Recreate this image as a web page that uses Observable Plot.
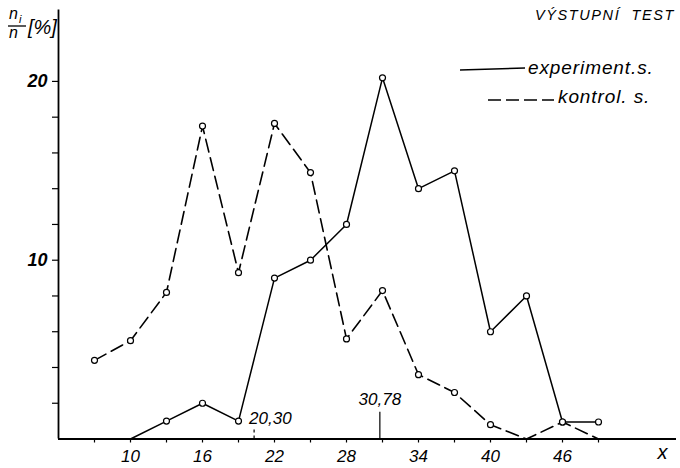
<!DOCTYPE html>
<html><head><meta charset="utf-8">
<script src="https://cdn.jsdelivr.net/npm/d3@7"></script>
<script src="https://cdn.jsdelivr.net/npm/@observablehq/plot@0.6"></script>
<style>body{margin:0;background:#fff} svg{display:block}</style>
</head><body><div id="chart"></div>
<script>
const scores     = [7, 10, 13, 16, 19, 22, 25, 28, 31, 34, 37, 40, 43, 46, 49];
const experiment = [null, 0, 1, 2, 1, 9, 10, 12, 20.2, 14, 15, 6, 8, 0.95, 0.95];
const control    = [4.4, 5.5, 8.2, 17.5, 9.3, 17.65, 14.9, 5.6, 8.3, 3.6, 2.6, 0.8, 0, 0.95, 0];
const xTicks  = [7, 10, 13, 16, 19, 22, 25, 28, 31, 34, 37, 40, 43, 46, 49];
const xLabels = [10, 16, 22, 28, 34, 40, 46];
const yTicks  = [2, 4, 6, 8, 10, 12, 14, 16, 18, 20];
const yLabels = [10, 20];
const means      = [20.30, 30.78];
const meanLabels = ["20,30", "30,78"];
const title = "VÝSTUPNÍ  TEST";
const seriesNames = ["experiment.s.", "kontrol. s."];

const FONT = "Liberation Sans, Arial, sans-serif";

const expRows  = scores.map((x, i) => ({x, y: experiment[i]})).filter(d => d.y != null);
const ctrlRows = scores.map((x, i) => ({x, y: control[i]})).filter(d => d.y != null);

function annotations() {
  const g = d3.create("svg:g")
    .attr("font-family", FONT).attr("font-style", "italic").attr("fill", "black")
    .attr("text-anchor", "start");
  // y label  n_i / n [%]
  g.append("text").attr("x", 9).attr("y", 19).attr("font-size", 16).text("n");
  g.append("text").attr("x", 19).attr("y", 23).attr("font-size", 11).text("i");
  g.append("line").attr("x1", 8).attr("x2", 26).attr("y1", 26).attr("y2", 26)
    .attr("stroke", "black").attr("stroke-width", 1.3);
  g.append("text").attr("x", 9).attr("y", 38).attr("font-size", 16).text("n");
  g.append("text").attr("x", 28).attr("y", 34).attr("font-size", 20).text("[%]");
  // title
  g.append("text").attr("x", 675).attr("y", 20).attr("text-anchor", "end")
    .attr("font-size", 14.5).attr("letter-spacing", 1.6).attr("xml:space", "preserve")
    .style("white-space", "pre").text(title);
  // legend
  g.append("line").attr("x1", 460).attr("x2", 525).attr("y1", 70).attr("y2", 68)
    .attr("stroke", "black").attr("stroke-width", 1.5);
  g.append("text").attr("x", 528).attr("y", 74).attr("font-size", 19)
    .attr("letter-spacing", 0.9).text(seriesNames[0]);
  g.append("line").attr("x1", 488).attr("x2", 554).attr("y1", 100).attr("y2", 100)
    .attr("stroke", "black").attr("stroke-width", 1.6).attr("stroke-dasharray", "13,5");
  g.append("text").attr("x", 558).attr("y", 103).attr("font-size", 19)
    .attr("letter-spacing", 0.9).text(seriesNames[1]);
  return g.node();
}

const chart = Plot.plot({
  width: 680,
  height: 468,
  marginLeft: 58,
  marginRight: 4,
  marginTop: 9.4,
  marginBottom: 29.5,
  style: {fontFamily: FONT, fontStyle: "italic", color: "black", background: "white"},
  x: {domain: [4, 55.5]},
  y: {domain: [0, 24]},
  marks: [
    Plot.axisX({ticks: xTicks, tickFormat: d => xLabels.includes(d) ? d : "", tickSize: 4,
      tickPadding: 7, fontSize: 17, label: null, strokeWidth: 1.2}),
    Plot.axisY({ticks: yTicks, tickFormat: d => yLabels.includes(d) ? d : "", tickSize: 6,
      tickPadding: 5, fontSize: 18, fontWeight: "bold", label: null, strokeWidth: 1.2}),
    Plot.ruleY([0], {strokeWidth: 1.8}),
    Plot.ruleX([4], {strokeWidth: 1.8}),
    Plot.ruleX([means[0]], {y1: 0, y2: 0.6, strokeDasharray: "3,3", strokeWidth: 1.2}),
    Plot.ruleX([means[1]], {y1: 0, y2: 1.5, strokeWidth: 1.2}),
    Plot.text([meanLabels[0]], {x: means[0], y: 1.15, textAnchor: "start", dx: -5, fontSize: 17}),
    Plot.text([meanLabels[1]], {x: means[1], y: 2.2, fontSize: 17}),
    Plot.lineY(ctrlRows, {x: "x", y: "y", stroke: "black", strokeWidth: 1.6, strokeDasharray: "13,6"}),
    Plot.lineY(expRows, {x: "x", y: "y", stroke: "black", strokeWidth: 1.5}),
    Plot.dot(ctrlRows.filter(d => d.y > 0), {x: "x", y: "y", r: 3, fill: "white", stroke: "black", strokeWidth: 1.2}),
    Plot.dot(expRows.filter(d => d.y > 0), {x: "x", y: "y", r: 3, fill: "white", stroke: "black", strokeWidth: 1.2}),
    Plot.text(["x"], {frameAnchor: "bottom-right", dx: -9, dy: 20, fontSize: 20}),
    annotations
  ]
});
document.getElementById("chart").appendChild(chart);
</script>
</body></html>
